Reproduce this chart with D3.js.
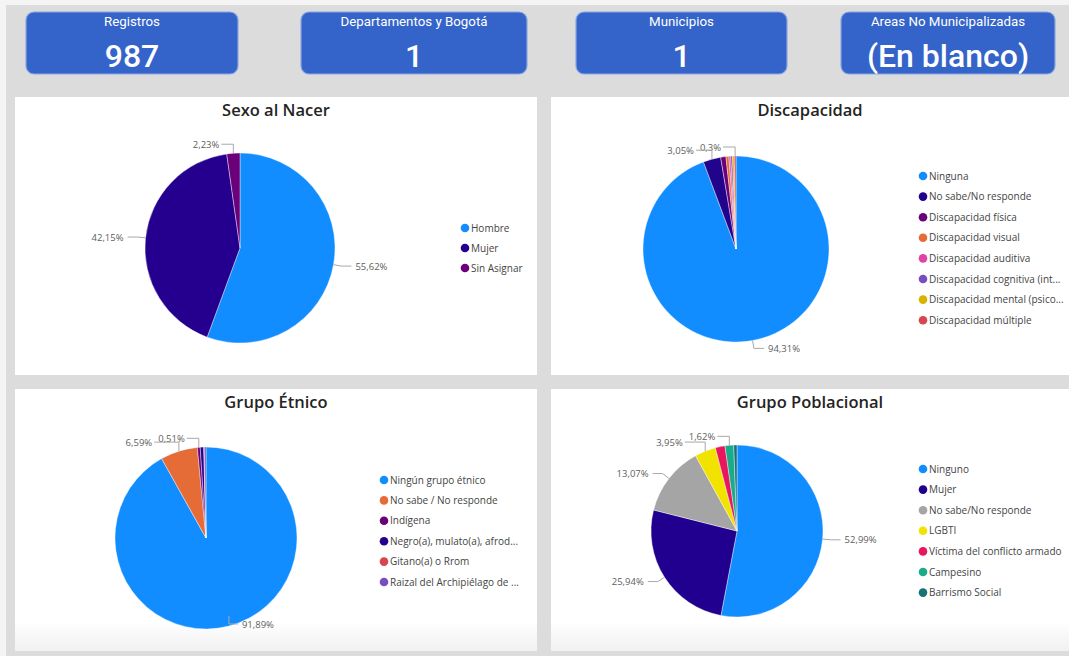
<!DOCTYPE html>
<html>
<head>
<meta charset="utf-8">
<script src="https://cdn.jsdelivr.net/npm/d3@7"></script>
<style>
  html, body { margin: 0; padding: 0; background: #ffffff; }
  svg { display: block; }
</style>
</head>
<body>
<svg id="dash" width="1069" height="656"></svg>
<script>
// ---- KPI cards ----
const cardTitles = ["Registros", "Departamentos y Bogotá", "Municipios", "Areas No Municipalizadas"];
const cardValues = ["987", "1", "1", "(En blanco)"];

// ---- Sexo al Nacer ----
const sexoCats = ["Hombre", "Mujer", "Sin Asignar"];
const sexoVals = [55.62, 42.15, 2.23];
const sexoLabeled = ["Hombre", "Mujer", "Sin Asignar"];

// ---- Discapacidad ----
const discCats = ["Ninguna", "No sabe/No responde", "Discapacidad física", "Discapacidad visual",
  "Discapacidad auditiva", "Discapacidad cognitiva (int...", "Discapacidad mental (psico...", "Discapacidad múltiple"];
const discVals = [94.31, 3.05, 0.91, 0.51, 0.31, 0.31, 0.3, 0.3];
const discLabeled = ["Ninguna", "No sabe/No responde", "Discapacidad múltiple"];

// ---- Grupo Étnico ----
const etniaCats = ["Ningún grupo étnico", "No sabe / No responde", "Indígena",
  "Negro(a), mulato(a), afrod...", "Gitano(a) o Rrom", "Raizal del Archipiélago de ..."];
const etniaVals = [91.89, 6.59, 0.51, 0.61, 0.1, 0.3];
const etniaLabeled = ["Ningún grupo étnico", "No sabe / No responde", "Indígena"];

// ---- Grupo Poblacional ----
const poblCats = ["Ninguno", "Mujer", "No sabe/No responde", "LGBTI",
  "Víctima del conflicto armado", "Campesino", "Barrismo Social"];
const poblVals = [52.99, 25.94, 13.07, 3.95, 1.82, 1.62, 0.61];
const poblLabeled = ["Ninguno", "Mujer", "No sabe/No responde", "LGBTI", "Campesino"];

// ---- palettes ----
const sexoColors  = ["#118DFF", "#25008F", "#6B007B"];
const discColors  = ["#118DFF", "#22038C", "#6B007B", "#E66C37", "#E044A7", "#744EC2", "#D9B300", "#D64550"];
const etniaColors = ["#118DFF", "#E66C37", "#6B007B", "#22038C", "#D64550", "#744EC2"];
const poblColors  = ["#118DFF", "#22008F", "#A5A5A5", "#F2E200", "#E8175D", "#1AAB8A", "#197278"];

const svg = d3.select("#dash");
const W = 1069, H = 656;

const UI_FONT = "'Open Sans', 'Noto Sans', sans-serif";
const CARD_FONT = "'Roboto', 'Liberation Sans', sans-serif";

// page background
svg.append("rect").attr("x", 0).attr("y", 0).attr("width", W).attr("height", H).attr("fill", "#f4f4f4");
svg.append("rect").attr("x", 6).attr("y", 5).attr("width", W - 6).attr("height", H - 5).attr("fill", "#dcdcdc");

// ---- cards ----
const cardBoxes = [
  { x: 26, w: 212 }, { x: 301, w: 226 }, { x: 576, w: 211 }, { x: 841, w: 214 }
];
const cardY = 12, cardH = 62;
const cards = svg.append("g").selectAll("g").data(cardTitles).join("g")
  .attr("transform", (d, i) => `translate(${cardBoxes[i].x},${cardY})`);
cards.append("rect")
  .attr("width", (d, i) => cardBoxes[i].w).attr("height", cardH)
  .attr("rx", 8).attr("ry", 8)
  .attr("fill", "#3464C9").attr("stroke", "#8aa6e3").attr("stroke-width", 1.2);
cards.append("text")
  .attr("x", (d, i) => cardBoxes[i].w / 2).attr("y", 14)
  .attr("text-anchor", "middle").attr("fill", "#ffffff")
  .style("font-family", CARD_FONT).style("font-size", "13.3px")
  .text(d => d);
cards.append("text")
  .attr("x", (d, i) => cardBoxes[i].w / 2).attr("y", 55)
  .attr("text-anchor", "middle").attr("fill", "#ffffff")
  .style("font-family", CARD_FONT).style("font-size", "32px").style("font-weight", 500)
  .text((d, i) => cardValues[i]);

// ---- panels ----
const panels = [
  { x: 15, y: 97, w: 522, h: 278, title: "Sexo al Nacer" },
  { x: 551, y: 97, w: 518, h: 278, title: "Discapacidad" },
  { x: 15, y: 389, w: 522, h: 262, title: "Grupo Étnico" },
  { x: 551, y: 389, w: 518, h: 262, title: "Grupo Poblacional" }
];
const defs = svg.append("defs");
const grad = defs.append("linearGradient").attr("id", "fade").attr("x1", 0).attr("y1", 0).attr("x2", 0).attr("y2", 1);
grad.append("stop").attr("offset", "0%").attr("stop-color", "#ffffff");
grad.append("stop").attr("offset", "100%").attr("stop-color", "#f1f1f1");

panels.forEach(p => {
  svg.append("rect").attr("x", p.x).attr("y", p.y).attr("width", p.w).attr("height", p.h).attr("fill", "#ffffff");
  if (p.y > 300) {
    svg.append("rect").attr("x", p.x).attr("y", p.y + p.h - 30).attr("width", p.w).attr("height", 30).attr("fill", "url(#fade)");
  }
  svg.append("text")
    .attr("x", p.x + p.w / 2).attr("y", p.y + 19)
    .attr("text-anchor", "middle").attr("fill", "#252423")
    .style("font-family", UI_FONT).style("font-size", "16.5px").style("font-weight", 600)
    .text(p.title);
});

const fmt = v => String(v).replace(".", ",") + "%";

function drawPie(cfg) {
  const { cats, vals, colors, labeled, cx, cy, r, legendX, legendY, legendStep, labelMaxY } = cfg;
  const data = cats.map((c, i) => ({ cat: c, v: vals[i] }));
  const color = d3.scaleOrdinal().domain(cats).range(colors);
  const pie = d3.pie().sort(null).value(d => d.v);
  const arc = d3.arc().innerRadius(0).outerRadius(r);
  const arcs = pie(data);

  const g = svg.append("g").attr("transform", `translate(${cx},${cy})`);
  g.selectAll("path").data(arcs).join("path")
    .attr("d", arc)
    .attr("fill", d => color(d.data.cat))
    .attr("stroke", "#ffffff").attr("stroke-width", 0.4);

  // labels with leader lines
  const lab = arcs.filter(a => labeled.includes(a.data.cat));
  const topOnes = [], sideOnes = [];
  lab.forEach(a => {
    const m = (a.startAngle + a.endAngle) / 2;
    const deg = m * 180 / Math.PI;
    a.mid = m;
    if (deg > 330 || deg < 30) topOnes.push(a); else sideOnes.push(a);
  });

  const lineColor = "#a8a8a8";
  const textAttrs = sel => sel.attr("fill", "#605E5C")
    .style("font-family", UI_FONT).style("font-size", "9.5px");

  const maxY = labelMaxY !== undefined ? labelMaxY - cy : Infinity;
  sideOnes.forEach(a => {
    const m = a.mid;
    const p0 = [r * Math.sin(m), -r * Math.cos(m)];
    const dir = Math.sin(m) >= 0 ? 1 : -1;
    let p1 = [(r + 8) * Math.sin(m), -(r + 8) * Math.cos(m)];
    let pts;
    if (p1[1] > maxY) {
      // kept inside the visual: short drop from the rim, then across to the label
      pts = [[p0[0], maxY - 8], [p0[0], maxY], [p0[0] + dir * 9, maxY]];
    } else {
      pts = [p0, p1, [p1[0] + dir * 10, p1[1]]];
    }
    const p2 = pts[2];
    g.append("polyline").attr("points", pts.map(p => p.join(",")).join(" "))
      .attr("fill", "none").attr("stroke", lineColor).attr("stroke-width", 1);
    g.append("text").attr("x", p2[0] + dir * 4).attr("y", p2[1] + 3.5)
      .attr("text-anchor", dir > 0 ? "start" : "end").call(textAttrs)
      .text(fmt(a.data.v));
  });

  // labels above the pie, from the one nearest 12 o'clock outward to the left
  topOnes.sort((a, b) => {
    const da = a.mid > Math.PI ? 2 * Math.PI - a.mid : a.mid;
    const db = b.mid > Math.PI ? 2 * Math.PI - b.mid : b.mid;
    return da - db;
  });
  let prevStart = Infinity;
  topOnes.forEach(a => {
    const m = a.mid;
    const p0 = [r * Math.sin(m), -r * Math.cos(m)];
    const yl = p0[1] - 9;
    const end = Math.min(p0[0] - 12, prevStart - 4);
    g.append("polyline").attr("points", [p0, [p0[0], yl], [end, yl]].map(p => p.join(",")).join(" "))
      .attr("fill", "none").attr("stroke", lineColor).attr("stroke-width", 1);
    const t = g.append("text").attr("x", end - 2).attr("y", yl + 3.5)
      .attr("text-anchor", "end").call(textAttrs).text(fmt(a.data.v));
    prevStart = end - 2 - t.node().getComputedTextLength();
  });

  // legend
  const lg = svg.append("g").attr("transform", `translate(${legendX},${legendY})`);
  const items = lg.selectAll("g").data(cats).join("g")
    .attr("transform", (d, i) => `translate(0,${i * legendStep})`);
  items.append("circle").attr("r", 4.3).attr("fill", d => color(d));
  items.append("text").attr("x", 6).attr("y", 3.6)
    .attr("fill", "#444444")
    .style("font-family", UI_FONT).style("font-size", "10px")
    .text(d => d);
}

drawPie({ cats: sexoCats, vals: sexoVals, colors: sexoColors, labeled: sexoLabeled,
  cx: 240, cy: 248, r: 95, legendX: 465, legendY: 228, legendStep: 20 });
drawPie({ cats: discCats, vals: discVals, colors: discColors, labeled: discLabeled,
  cx: 736, cy: 249, r: 93, legendX: 923, legendY: 176, legendStep: 20.6 });
drawPie({ cats: etniaCats, vals: etniaVals, colors: etniaColors, labeled: etniaLabeled,
  cx: 206, cy: 538, r: 91, legendX: 384, legendY: 480, legendStep: 20.4, labelMaxY: 624 });
drawPie({ cats: poblCats, vals: poblVals, colors: poblColors, labeled: poblLabeled,
  cx: 737, cy: 531, r: 86, legendX: 923, legendY: 469, legendStep: 20.6, labelMaxY: 624 });
</script>
</body>
</html>
